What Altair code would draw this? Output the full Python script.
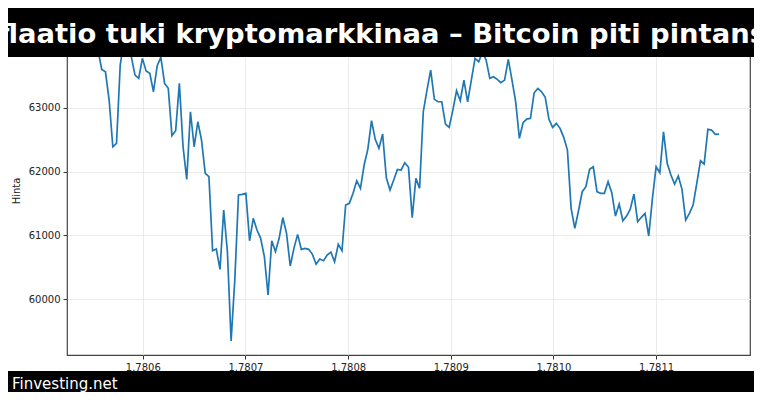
import altair as alt
import pandas as pd

TITLE = "Inflaatio tuki kryptomarkkinaa – Bitcoin piti pintansa"
FOOTER = "Finvesting.net"
Y_LABEL = "Hinta"

# hourly observations, timestamps in seconds
START_TS = 1780556400
STEP_S = 3600
prices = [
    63900, 63600, 63563, 63120, 62388, 62442, 63668, 64050, 63950, 63800,
    63511, 63460, 63773, 63574, 63538, 63250, 63657, 63789, 63381, 63303,
    62561, 62639, 63381, 62388, 61878, 62937, 62388, 62780, 62493, 61972,
    61919, 60760, 60786, 60468, 61397, 60744, 59345, 60301, 61632, 61643,
    61659, 60916, 61267, 61084, 60954, 60666, 60066, 60916, 60744, 60954,
    61276, 61032, 60520, 60797, 61016, 60781, 60797, 60781, 60703, 60547,
    60630, 60603, 60692, 60739, 60587, 60860, 60760, 61475, 61502, 61659,
    61856, 61737, 62102, 62352, 62796, 62504, 62363, 62587, 61901, 61710,
    61867, 62034, 62024, 62138, 62066, 61276, 61893, 61737, 62937, 63276,
    63589, 63131, 63093, 63093, 62744, 62692, 62963, 63266, 63109, 63433,
    63093, 63433, 63773, 63720, 63870, 63746, 63460, 63485, 63444, 63391,
    63433, 63757, 63433, 63093, 62520, 62764, 62822, 62833, 63234, 63303,
    63250, 63162, 62818, 62692, 62755, 62677, 62536, 62337, 61424, 61110,
    61386, 61684, 61762, 62034, 62075, 61684, 61659, 61659, 61840, 61668,
    61303, 61491, 61229, 61303, 61410, 61648, 61214, 61283, 61345, 60990,
    61580, 62075, 61981, 62623, 62128, 61945, 61804, 61930, 61721, 61240,
    61345, 61475, 61815, 62169, 62117, 62661, 62650, 62583, 62587,
]
x_ticks = [1.7806, 1.7807, 1.7808, 1.7809, 1.7810, 1.7811]
y_ticks = [60000, 61000, 62000, 63000]

df = pd.DataFrame({
    "t": [(START_TS + i * STEP_S) / 1e9 for i in range(len(prices))],
    "price": prices,
})

W, H = 683, 329
FONT = "DejaVu Sans"

line = alt.Chart(df).mark_line(color="#1f77b4", strokeWidth=1.7, clip=True).encode(
    x=alt.X("t:Q",
            scale=alt.Scale(domain=[1.78052616, 1.78119144], nice=False, zero=False),
            axis=alt.Axis(values=x_ticks, format=".4f", title=None)),
    y=alt.Y("price:Q",
            scale=alt.Scale(domain=[59126, 64280], nice=False, zero=False),
            axis=alt.Axis(values=y_ticks, format="d", title=Y_LABEL)),
)

title_df = pd.DataFrame({"label": [TITLE]})
footer_df = pd.DataFrame({"label": [FOOTER]})

top_rect = alt.Chart(title_df).mark_rect(color="black").encode(
    x=alt.value(-60), x2=alt.value(690), y=alt.value(-20), y2=alt.value(31))
top_text = alt.Chart(title_df).mark_text(
    font=FONT, fontWeight="bold", fontSize=27.4, color="white",
    align="left", baseline="alphabetic").encode(
    x=alt.value(-99), y=alt.value(16.5), text="label:N")

bot_rect = alt.Chart(footer_df).mark_rect(color="black").encode(
    x=alt.value(-60), x2=alt.value(690), y=alt.value(345), y2=alt.value(380))
bot_text = alt.Chart(footer_df).mark_text(
    font=FONT, fontSize=15, color="white",
    align="left", baseline="alphabetic").encode(
    x=alt.value(-55), y=alt.value(362.5), text="label:N")

chart = alt.layer(line, top_rect, top_text, bot_rect, bot_text).properties(
    width=W, height=H,
    autosize=alt.AutoSizeParams(type="none"),
    padding={"left": 59, "top": 18, "right": 4, "bottom": 37},
    background="white",
).configure_view(
    stroke="#444", strokeWidth=1.2,
).configure_axis(
    domain=False,
    tickSize=4, tickColor="#333", tickWidth=1,
    labelFont=FONT, labelFontSize=10, labelColor="#222", labelPadding=3,
    titleFont=FONT, titleFontSize=10, titleFontWeight="normal", titleColor="#222",
    titlePadding=7,
    grid=True, gridColor="#ebebeb", gridWidth=1,
)

chart.save("out.html", embed_options={"renderer": "svg", "actions": False})
